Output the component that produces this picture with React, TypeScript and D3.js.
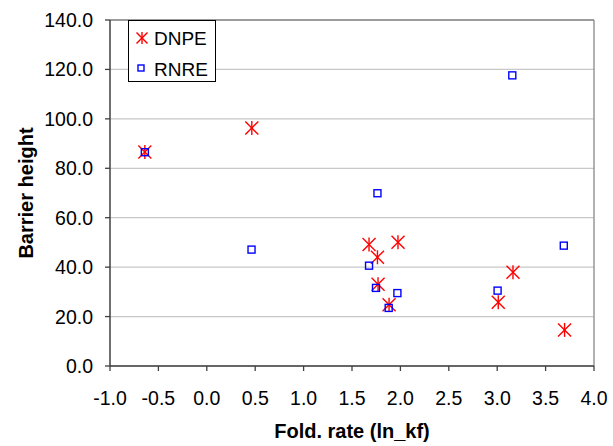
import React from "react";
import * as d3 from "d3";

const dnpeX = [-0.64, 0.465, 1.676, 1.975, 1.763, 1.769, 1.883, 3.163, 3.011, 3.696];
const dnpeY = [86.6, 96.3, 49.2, 50.1, 44.0, 33.1, 24.8, 37.9, 25.8, 14.6];
const rnreX = [-0.64, 0.462, 3.156, 1.763, 1.676, 1.748, 1.969, 1.879, 3.004, 3.688];
const rnreY = [86.5, 47.1, 117.6, 69.9, 40.6, 31.6, 29.5, 23.5, 30.5, 48.7];
const xTicks = [-1.0, -0.5, 0.0, 0.5, 1.0, 1.5, 2.0, 2.5, 3.0, 3.5, 4.0];
const yTicks = [0, 20, 40, 60, 80, 100, 120, 140];
const seriesNames = ["DNPE", "RNRE"];
const xTitle = "Fold. rate (ln_kf)";
const yTitle = "Barrier height";

const W = 613, H = 446;
const L = 110, R = 594, T = 20, B = 366;

const font = "Arial, 'Liberation Sans', sans-serif";
const fmt = (v: number) => d3.format(".1f")(v).replace("\u2212", "-");

function Star({ x, y, s = 6.5 }: { x: number; y: number; s?: number }) {
  return (
    <g stroke="#FF0000" strokeWidth={1.4} fill="none">
      <line x1={x - s} y1={y - s} x2={x + s} y2={y + s} />
      <line x1={x - s} y1={y + s} x2={x + s} y2={y - s} />
      <line x1={x} y1={y - s - 0.5} x2={x} y2={y + s + 0.5} />
    </g>
  );
}

function Sq({ x, y, s = 3.5 }: { x: number; y: number; s?: number }) {
  return <rect x={x - s} y={y - s} width={2 * s} height={2 * s} fill="none" stroke="#0000FF" strokeWidth={1.4} />;
}

export default function App() {
  const xs = d3.scaleLinear().domain([-1, 4]).range([L, R]);
  const ys = d3.scaleLinear().domain([0, 140]).range([B, T]);
  return (
    <svg width={W} height={H} style={{ position: "absolute", left: 0, top: 0, background: "#fff" }}>
      <rect x={0} y={0} width={W} height={H} fill="#fff" />
      {yTicks.map((t) => (
        <line key={"g" + t} x1={L} x2={R} y1={ys(t)} y2={ys(t)} stroke="#c8c8c8" strokeWidth={1.3} />
      ))}
      <line x1={R} x2={R} y1={T} y2={B} stroke="#888" strokeWidth={1.3} />
      <line x1={L} x2={R} y1={T} y2={T} stroke="#888" strokeWidth={1.3} />
      <line x1={L} x2={L} y1={T} y2={B} stroke="#404040" strokeWidth={1.5} />
      <line x1={L} x2={R} y1={B} y2={B} stroke="#404040" strokeWidth={1.5} />
      {yTicks.map((t) => (
        <g key={"y" + t}>
          <line x1={L - 5} x2={L} y1={ys(t)} y2={ys(t)} stroke="#404040" strokeWidth={1.3} />
          <text x={93} y={ys(t) + 7} textAnchor="end" fontFamily={font} fontSize={19.5} fill="#000">
            {fmt(t)}
          </text>
        </g>
      ))}
      {xTicks.map((t) => (
        <g key={"x" + t}>
          <line x1={xs(t)} x2={xs(t)} y1={B} y2={B + 5} stroke="#404040" strokeWidth={1.3} />
          <text x={xs(t)} y={405} textAnchor="middle" fontFamily={font} fontSize={19.5} fill="#000">
            {fmt(t)}
          </text>
        </g>
      ))}
      <text x={(L + R) / 2} y={438} textAnchor="middle" fontFamily={font} fontSize={20} fontWeight="bold">
        {xTitle}
      </text>
      <text
        transform={`translate(33,${(T + B) / 2}) rotate(-90)`}
        textAnchor="middle"
        fontFamily={font}
        fontSize={20}
        fontWeight="bold"
      >
        {yTitle}
      </text>
      {dnpeX.map((v, i) => (
        <Star key={"d" + i} x={xs(v)} y={ys(dnpeY[i])} />
      ))}
      {rnreX.map((v, i) => (
        <Sq key={"r" + i} x={xs(v)} y={ys(rnreY[i])} />
      ))}
      <rect x={128.5} y={20.5} width={87} height={61} fill="#fff" stroke="#000" strokeWidth={1} />
      <Star x={142} y={38} s={5.5} />
      <text x={154} y={45} fontFamily={font} fontSize={19}>{seriesNames[0]}</text>
      <Sq x={141} y={68} s={3} />
      <text x={154} y={76} fontFamily={font} fontSize={19}>{seriesNames[1]}</text>
    </svg>
  );
}
